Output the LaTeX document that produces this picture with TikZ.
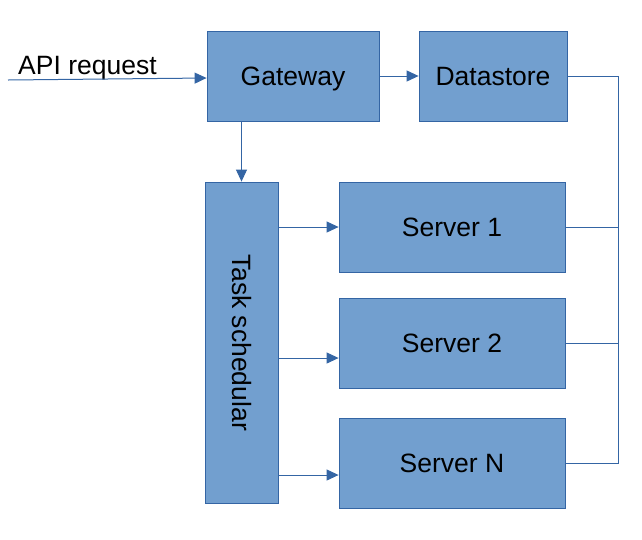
\documentclass[tikz,border=0pt]{standalone}
\usepackage{fontspec}
\setmainfont{Liberation Sans}
\usepackage{tikz}
\usetikzlibrary{arrows.meta,positioning}
\definecolor{boxfill}{HTML}{729FCF}
\definecolor{boxline}{HTML}{3465A4}
\tikzset{
  blkbox/.style={rectangle,draw=boxline,fill=boxfill,line width=0.8pt,inner sep=0pt,text height=24pt,text depth=5.6pt,font=\fontsize{26.5}{30}\selectfont},
  srvbox/.style={blkbox,minimum width=226pt,minimum height=90pt},
  flow/.style={-{Triangle[length=12pt,width=11pt]},line width=1pt,boxline},
  bus/.style={line width=1pt,boxline},
}

\begin{document}
\begin{tikzpicture}[x=1pt,y=-1pt]
  \useasboundingbox (0,0) rectangle (642,539);
  \node[blkbox,minimum width=172pt,minimum height=90pt] (nGateway) at (293,76) {Gateway};
  \node[blkbox,minimum width=148pt,minimum height=90pt] (nDatastore) at (493,76) {Datastore};
  \node[blkbox,minimum width=73pt,minimum height=321pt] (nTask) at (241.5,342.5) {};
  \node[rotate=-90,text height=24pt,text depth=5.6pt,font=\fontsize{26.5}{30}\selectfont] (nTaskLbl) at (nTask.center) {Task schedular};
  \node[srvbox] (nServerA) at (452,227) {Server 1};
  \node[srvbox] (nServerB) at (452,343) {Server 2};
  \node[srvbox] (nServerN) at (452,463) {Server N};
  \coordinate (nIn) at (8,80);
  \node[anchor=base west,font=\fontsize{26.5}{30}\selectfont,inner sep=0pt] (nApi) at (18,74) {API request};
  \coordinate (nBus) at (618,76);
  \draw[flow] (nIn) -- ([yshift=-2pt]nGateway.west);
  \draw[flow] (nGateway) -- (nDatastore);
  \draw[flow] (nTask.north |- nGateway.south) -- (nTask.north);
  \draw[flow] (nTask.east |- nServerA.west) -- (nServerA.west);
  \draw[flow] ([yshift=-15pt]nTask.east |- nServerB.west) -- ([yshift=-15pt]nServerB.west);
  \draw[flow] ([yshift=-12pt]nTask.east |- nServerN.west) -- ([yshift=-12pt]nServerN.west);
  \draw[bus] (nDatastore.east) -- (nBus) |- (nServerN.east);
  \draw[bus] (nServerA.east) -- (nServerA.east -| nBus);
  \draw[bus] (nServerB.east) -- (nServerB.east -| nBus);
\end{tikzpicture}
\end{document}
